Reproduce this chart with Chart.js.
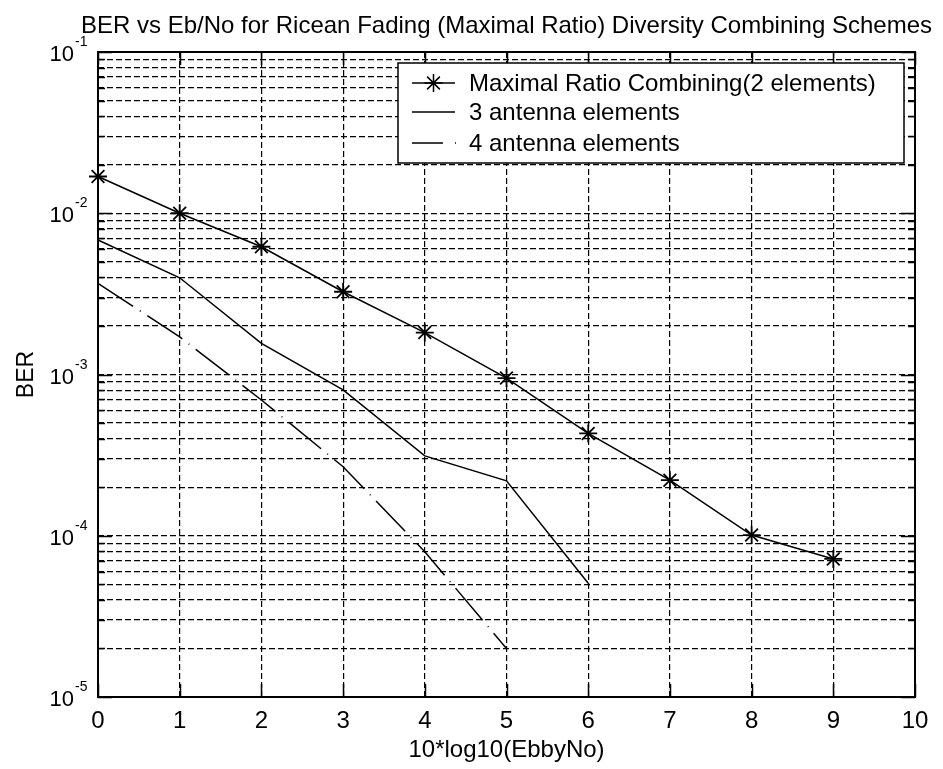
<!DOCTYPE html>
<html>
<head>
<meta charset="utf-8">
<title>BER vs Eb/No - Ricean fading MRC</title>
<script src="https://cdn.jsdelivr.net/npm/chart.js@4.4.1/dist/chart.umd.min.js"></script>
<style>
  html, body { margin: 0; padding: 0; background: #fff; }
  #berChart { display: block; }
</style>
</head>
<body>
<canvas id="berChart" width="943" height="769"></canvas>
<script>
// Eb/No axis, 10*log10(EbbyNo) in dB
const ebNoDb = [0, 1, 2, 3, 4, 5, 6, 7, 8, 9];

// BER curves for each diversity order
const berMrc2 = [0.0169, 0.0100, 0.0062, 0.00326, 0.00182, 0.00095, 0.000431, 0.000221, 0.000101, 0.0000718];
const berAnt3 = [0.00682, 0.00398, 0.00156, 0.000802, 0.000313, 0.000219, 0.0000507];
const berAnt4 = [0.00368, 0.00171, 0.000695, 0.000268, 0.0000796, 0.0000200];

const seriesLabels = ['Maximal Ratio Combining(2 elements)', '3 antenna elements', '4 antenna elements'];

const xTicks = [0, 1, 2, 3, 4, 5, 6, 7, 8, 9, 10];
const yDecades = [-5, -4, -3, -2, -1];
const yMinorSteps = [1, 2, 3, 4, 5, 6, 7, 8, 9];

const titleText = 'BER vs Eb/No for Ricean Fading (Maximal Ratio) Diversity Combining Schemes';
const xTitle = '10*log10(EbbyNo)';
const yTitle = 'BER';

const FONT = '"Liberation Sans", Arial, sans-serif';

// log grid: every 1..9 step inside each decade, plus the top decade line
const yGrid = [];
yDecades.forEach((d, i) => {
  if (i === yDecades.length - 1) {
    yGrid.push({ value: Math.pow(10, d), major: true });
    return;
  }
  yMinorSteps.forEach(m => yGrid.push({ value: m * Math.pow(10, d), major: m === 1 }));
});

function toPoints(xs, ys) {
  return ys.map((v, i) => ({ x: xs[i], y: v }));
}

// box, inward ticks, tick labels and titles drawn the old-style way
const axesFrame = {
  id: 'axesFrame',
  afterDatasetsDraw(chart) {
    const { ctx, chartArea: a, scales: { x, y } } = chart;
    ctx.save();
    ctx.strokeStyle = '#000';
    ctx.fillStyle = '#000';
    ctx.setLineDash([]);

    ctx.lineWidth = 1.5;
    ctx.beginPath();
    xTicks.forEach(v => {
      const px = Math.round(x.getPixelForValue(v)) + 0.5;
      ctx.moveTo(px, a.bottom); ctx.lineTo(px, a.bottom - 13);
      ctx.moveTo(px, a.top); ctx.lineTo(px, a.top + 13);
    });
    yGrid.forEach(t => {
      const py = Math.round(y.getPixelForValue(t.value)) + 0.5;
      const len = t.major ? 14 : 7;
      ctx.moveTo(a.left, py); ctx.lineTo(a.left + len, py);
      ctx.moveTo(a.right, py); ctx.lineTo(a.right - len, py);
    });
    ctx.stroke();

    ctx.lineWidth = 2;
    ctx.strokeRect(a.left, a.top, a.right - a.left, a.bottom - a.top);

    // x tick labels
    ctx.font = '24px ' + FONT;
    ctx.textAlign = 'center';
    ctx.textBaseline = 'alphabetic';
    xTicks.forEach(v => ctx.fillText(String(v), x.getPixelForValue(v), a.bottom + 31));

    // y tick labels: 10 with a raised exponent
    yDecades.forEach(d => {
      const py = y.getPixelForValue(Math.pow(10, d));
      ctx.font = '22px ' + FONT;
      ctx.textAlign = 'right';
      ctx.fillText('10', a.left - 24, py + 9);
      ctx.font = '14px ' + FONT;
      ctx.textAlign = 'left';
      ctx.fillText(String(d), a.left - 23, py - 6);
    });

    // titles
    const cx = (a.left + a.right) / 2;
    ctx.textAlign = 'center';
    ctx.font = '24px ' + FONT;
    ctx.fillText(xTitle, cx, a.bottom + 60);
    ctx.font = '24px ' + FONT;
    ctx.fillText(titleText, cx, 33);

    ctx.save();
    ctx.translate(33, (a.top + a.bottom) / 2);
    ctx.rotate(-Math.PI / 2);
    ctx.font = '23px ' + FONT;
    ctx.fillText(yTitle, 0, 0);
    ctx.restore();

    ctx.restore();
  },
  afterDraw(chart) {
    const { ctx } = chart;
    const box = { left: 398, top: 63, right: 904, bottom: 163 };
    const rows = [83, 112, 143];
    ctx.save();
    ctx.fillStyle = '#fff';
    ctx.fillRect(box.left, box.top, box.right - box.left, box.bottom - box.top);
    ctx.strokeStyle = '#000';
    ctx.lineWidth = 1.5;
    ctx.strokeRect(box.left, box.top, box.right - box.left, box.bottom - box.top);

    chart.data.datasets.forEach((ds, i) => {
      const ly = rows[i];
      ctx.strokeStyle = ds.borderColor;
      ctx.lineWidth = ds.borderWidth;
      ctx.setLineDash(ds.borderDash ? [31, 12, 1, 12] : []);
      ctx.beginPath();
      ctx.moveTo(412, ly);
      ctx.lineTo(ds.borderDash ? 457 : 455, ly);
      ctx.stroke();
      ctx.setLineDash([]);
      if (ds.pointStyle === 'star') {
        Chart.helpers.drawPoint(ctx, {
          pointStyle: 'star', radius: ds.pointRadius, borderWidth: ds.pointBorderWidth, rotation: 0
        }, 433.5, ly);
      }
      ctx.fillStyle = '#000';
      ctx.font = '24px ' + FONT;
      ctx.textAlign = 'left';
      ctx.textBaseline = 'middle';
      ctx.fillText(ds.label, 469, ly + 1);
    });
    ctx.restore();
  }
};

const gridStyle = {
  color: '#000',
  lineWidth: 1.2,
  drawTicks: false
};

new Chart(document.getElementById('berChart').getContext('2d'), {
  type: 'line',
  data: {
    datasets: [
      {
        label: seriesLabels[0],
        data: toPoints(ebNoDb, berMrc2),
        borderColor: '#000',
        borderWidth: 1.5,
        pointStyle: 'star',
        pointRadius: 9,
        pointBorderWidth: 1.8,
        pointBorderColor: '#000',
        clip: false
      },
      {
        label: seriesLabels[1],
        data: toPoints(ebNoDb, berAnt3),
        borderColor: '#000',
        borderWidth: 1.5,
        pointRadius: 0,
        clip: false
      },
      {
        label: seriesLabels[2],
        data: toPoints(ebNoDb, berAnt4),
        borderColor: '#000',
        borderWidth: 1.5,
        borderDash: [42, 8, 1, 8],
        pointRadius: 0,
        clip: false
      }
    ]
  },
  options: {
    responsive: false,
    animation: false,
    devicePixelRatio: 1,
    layout: { padding: { left: 98, top: 52, right: 28, bottom: 72 } },
    plugins: {
      legend: { display: false },
      tooltip: { enabled: false },
      title: { display: false }
    },
    scales: {
      x: {
        type: 'linear',
        min: 0,
        max: 10,
        afterBuildTicks: scale => { scale.ticks = xTicks.map(v => ({ value: v })); },
        ticks: { display: false },
        grid: gridStyle,
        border: { display: false, dash: [6, 3] }
      },
      y: {
        type: 'logarithmic',
        min: 1e-5,
        max: 1e-1,
        afterBuildTicks: scale => { scale.ticks = yGrid.map(t => ({ value: t.value, major: t.major })); },
        ticks: { display: false },
        grid: gridStyle,
        border: { display: false, dash: [6, 3] }
      }
    }
  },
  plugins: [axesFrame]
});
</script>
</body>
</html>
